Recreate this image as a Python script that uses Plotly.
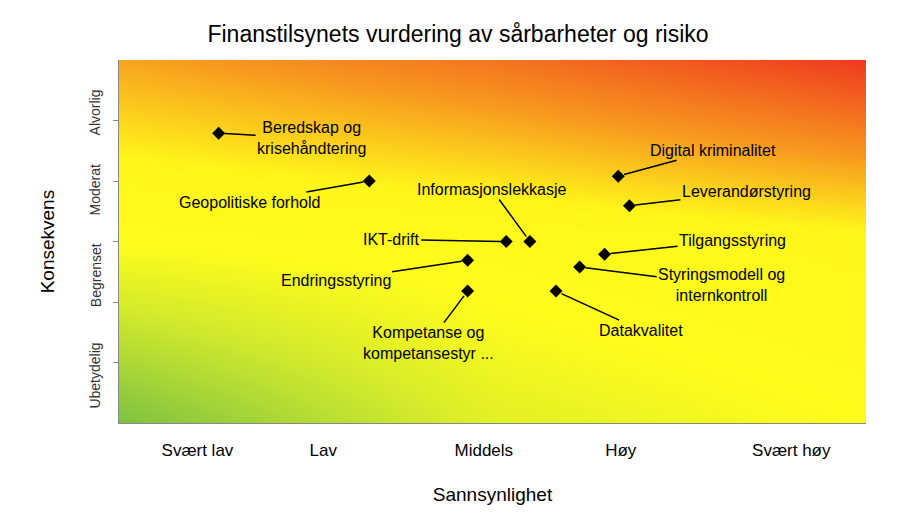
import plotly.graph_objects as go

# risikopunkter (sannsynlighet, konsekvens) på skala 0-6
navn = ["Beredskap og<br>krisehåndtering", "Geopolitiske forhold", "IKT-drift",
        "Informasjonslekkasje", "Endringsstyring", "Kompetanse og<br>kompetansestyr ...",
        "Datakvalitet", "Styringsmodell og<br>internkontroll", "Tilgangsstyring",
        "Digital kriminalitet", "Leverandørstyring"]
sannsynlighet = [0.80, 2.01, 3.11, 3.30, 2.80, 2.80, 3.51, 3.70, 3.90, 4.01, 4.10]
konsekvens = [4.79, 4.00, 3.00, 3.00, 2.69, 2.18, 2.18, 2.58, 2.79, 4.08, 3.59]
# etikettforskyvning i piksler
ax_off = [93, -120, -115, -38, -132, -39, 85, 142, 128, 95, 117]
ay_off = [5, 21, -2, -52, 20, 52, 39, 18, -14, -26, -14]

x_labels = ["Svært lav", "Lav", "Middels", "Høy", "Svært høy"]
x_pos = [0.63, 1.64, 2.93, 4.03, 5.4]
y_labels = ["Alvorlig", "Moderat", "Begrenset", "Ubetydelig"]
y_pos = [5.14, 3.85, 2.45, 0.79]

fig = go.Figure()
fig.add_trace(go.Heatmap(
    x=[0, 3, 6], y=[0, 3, 6],
    z=[[0.0, 0.3, 0.4], [0.4, 0.45, 0.52], [0.72, 0.84, 1.0]],
    zsmooth="best", showscale=False, hoverinfo="skip",
    colorscale=[[0, "#7dc142"], [0.25, "#d2ea2c"], [0.4, "#fffc1c"], [0.55, "#fff51a"],
                [0.75, "#f7961f"], [1, "#ef3a1f"]]))
fig.add_trace(go.Scatter(x=sannsynlighet, y=konsekvens, mode="markers",
                         marker=dict(symbol="diamond", size=10, color="black"),
                         showlegend=False))

for i in range(len(navn)):
    fig.add_annotation(x=sannsynlighet[i], y=konsekvens[i], text=navn[i],
                       ax=ax_off[i], ay=ay_off[i], showarrow=True, arrowhead=0,
                       arrowwidth=1.5, arrowcolor="black", standoff=6,
                       font=dict(size=16, color="black"))
for t, p in zip(y_labels, y_pos):
    fig.add_annotation(x=-0.045, xref="paper", y=p, text=t, textangle=-90,
                       showarrow=False, font=dict(size=14, color="#333"))
fig.add_annotation(x=-0.112, xref="paper", y=0.5, yref="paper", text="Konsekvens",
                   textangle=-90, showarrow=False, font=dict(size=19, color="black"))

fig.update_layout(
    width=900, height=515,
    title=dict(text="Finanstilsynets vurdering av sårbarheter og risiko", x=0.5, y=0.965,
               font=dict(size=23, color="black")),
    font=dict(family="Liberation Sans, Arial", color="black"),
    plot_bgcolor="white", paper_bgcolor="white",
    margin=dict(l=111, r=42, t=52, b=100, autoexpand=False),
    xaxis=dict(range=[0, 6], tickvals=x_pos, ticktext=x_labels, showgrid=False,
               zeroline=False, showline=True, linecolor="#888", tickfont=dict(size=17),
               title=dict(text="Sannsynlighet", font=dict(size=19), standoff=28), ticks="",
               ticklabelstandoff=12),
    yaxis=dict(range=[0, 6], tickvals=[1, 2, 3, 4, 5], ticktext=[""] * 5, showgrid=False,
               zeroline=False, showline=True, linecolor="#888", ticks="outside",
               ticklen=5, tickcolor="#888"),
)
fig.write_html("out.html")
